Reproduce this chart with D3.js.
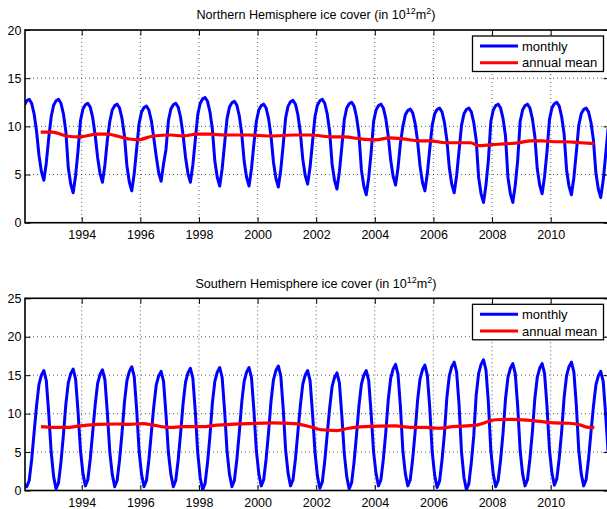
<!DOCTYPE html>
<html><head><meta charset="utf-8">
<script src="https://cdn.jsdelivr.net/npm/d3@7"></script>
<style>
body{margin:0;background:#fff}
svg{display:block}
text{font-family:"Liberation Sans",Arial,Helvetica,sans-serif;fill:#000}
</style>
</head><body>
<svg id="chart" width="607" height="509"></svg>
<script>
// ---------------- DATA ----------------
const years = [1992,1993,1994,1995,1996,1997,1998,1999,2000,2001,2002,2003,2004,2005,2006,2007,2008,2009,2010,2011];
const xTickYears = [1994,1996,1998,2000,2002,2004,2006,2008,2010];
const nhYTicks = [0,5,10,15,20];
const shYTicks = [0,5,10,15,20,25];
const legendLabels = ["monthly","annual mean"];

// Northern Hemisphere monthly ice cover (Jan..Dec per year)
const nhMonthly = [
 [12.2,12.65,12.8,12.4,11.3,9.5,7.0,5.3,4.4,6.2,8.8,11.0],
 [12.2,12.65,12.8,12.4,11.3,9.5,5.7,4.0,3.1,4.9,7.5,10.6],
 [11.8,12.25,12.4,12.0,10.9,9.1,6.8,5.1,4.2,6.0,8.6,10.5],
 [11.7,12.15,12.3,11.9,10.8,9.0,5.9,4.2,3.3,5.1,7.7,10.3],
 [11.5,11.95,12.1,11.7,10.6,8.8,6.9,5.2,4.3,6.1,7.6,10.6],
 [11.8,12.25,12.4,12.0,10.9,9.1,6.8,5.1,4.2,6.0,8.6,11.2],
 [12.4,12.85,13.0,12.6,11.5,9.7,6.4,4.7,3.8,5.6,8.2,10.8],
 [12.0,12.45,12.6,12.2,11.1,9.3,6.4,4.7,3.8,5.6,8.2,10.5],
 [11.7,12.15,12.3,11.9,10.8,9.0,6.3,4.6,3.7,5.5,8.1,10.9],
 [12.1,12.55,12.7,12.3,11.2,9.4,6.6,4.9,4.0,5.8,8.4,11.0],
 [12.2,12.65,12.8,12.4,11.3,9.5,6.1,4.4,3.5,5.3,7.9,10.7],
 [11.9,12.35,12.5,12.1,11.0,9.2,5.5,3.8,2.9,4.7,7.3,10.5],
 [11.7,12.15,12.3,11.9,10.8,9.0,6.5,4.8,3.9,5.7,8.3,10.0],
 [11.2,11.65,11.8,11.4,10.3,8.5,5.9,4.2,3.3,5.1,7.7,10.1],
 [11.3,11.75,11.9,11.5,10.4,8.6,5.7,4.0,3.1,4.9,7.5,10.1],
 [11.3,11.75,11.9,11.5,10.4,8.6,4.7,3.0,2.1,3.9,6.5,10.5],
 [11.7,12.15,12.3,11.9,10.8,9.0,4.7,3.0,2.1,3.9,6.5,10.5],
 [11.7,12.15,12.3,11.9,10.8,9.0,5.6,3.9,3.0,4.8,7.4,10.7],
 [11.9,12.35,12.5,12.1,11.0,9.2,5.5,3.8,2.9,4.7,7.3,10.1],
 [11.3,11.75,11.9,11.5,10.4,8.6,5.2,3.5,2.6,4.4,7.0,9.8]
];
// Southern Hemisphere monthly ice cover (Jan..Dec per year)
const shMonthly = [
 [0.8,0.5,1.3,4.0,7.5,11.0,13.8,15.0,15.6,14.3,10.0,5.0],
 [1.8,0.2,1.0,3.7,7.2,11.2,14.0,15.2,15.8,14.5,10.2,5.2],
 [2.2,0.6,1.4,4.1,7.6,11.1,13.9,15.1,15.7,14.4,10.1,5.0],
 [2.1,0.5,1.3,4.0,7.5,11.5,14.3,15.5,16.1,14.8,10.5,5.1],
 [2.1,0.5,1.3,4.0,7.5,10.9,13.7,14.9,15.5,14.2,9.9,4.9],
 [2.1,0.5,1.3,4.0,7.5,11.3,14.1,15.3,15.9,14.6,10.3,4.9],
 [1.7,0.1,0.9,3.6,7.1,11.4,14.2,15.4,16.0,14.7,10.4,5.1],
 [2.1,0.5,1.3,4.0,7.5,11.4,14.2,15.4,16.0,14.7,10.4,5.2],
 [2.2,0.6,1.4,4.1,7.6,11.6,14.4,15.6,16.2,14.9,10.6,5.2],
 [2.2,0.6,1.4,4.1,7.6,11.0,13.8,15.0,15.6,14.3,10.0,5.0],
 [1.9,0.3,1.1,3.8,7.3,10.7,13.5,14.7,15.3,14.0,9.7,4.8],
 [1.8,0.2,1.0,3.7,7.2,11.0,13.8,15.0,15.6,14.3,10.0,5.0],
 [2.2,0.6,1.4,4.1,7.6,11.8,14.6,15.8,16.4,15.1,10.8,5.1],
 [2.2,0.6,1.4,4.1,7.6,11.7,14.5,15.7,16.3,15.0,10.7,5.0],
 [2.0,0.4,1.2,3.9,7.4,12.1,14.9,16.1,16.7,15.4,11.1,5.0],
 [1.7,0.1,0.9,3.6,7.1,12.4,15.2,16.4,17.0,15.7,11.4,5.2],
 [2.1,0.5,1.3,4.0,7.5,11.9,14.7,15.9,16.5,15.2,10.9,5.2],
 [2.2,0.6,1.4,4.1,7.6,11.9,14.7,15.9,16.5,15.2,10.9,5.3],
 [2.3,0.7,1.5,4.2,7.7,12.1,14.9,16.1,16.7,15.4,11.1,5.2],
 [2.2,0.6,1.4,4.1,7.6,10.9,13.7,14.9,15.5,14.2,9.9,5.0]
];
// Annual (running) means
const nhMeanYears  = [1992.6,1993.0,1993.47,1993.93,1994.53,1994.86,1995.58,1995.91,1996.44,1997.04,1997.43,1997.96,1998.36,1998.88,1999.68,2000.47,2001.26,2001.79,2002.58,2002.98,2003.5,2004.03,2004.5,2004.96,2005.49,2005.88,2006.41,2006.94,2007.27,2007.53,2007.99,2008.52,2008.92,2009.31,2009.71,2010.11,2010.5,2011.03,2011.49];
const nhMeanValues = [9.4,9.4,9.0,8.9,9.2,9.2,8.7,8.6,9.0,9.1,9.0,9.2,9.2,9.1,9.1,9.0,9.1,9.1,8.9,8.9,8.7,8.6,8.8,8.7,8.5,8.5,8.3,8.3,8.3,8.0,8.1,8.2,8.3,8.5,8.5,8.4,8.4,8.3,8.2];
const shMeanYears  = [1992.61,1993.01,1993.47,1993.93,1994.53,1995.19,1995.58,1996.11,1996.44,1997.04,1997.43,1998.09,1998.62,1999.68,2000.47,2001.26,2001.79,2002.18,2002.71,2003.11,2003.64,2004.69,2005.22,2005.75,2006.15,2006.67,2007.46,2008.13,2008.65,2009.18,2009.71,2010.11,2010.63,2011.03,2011.29,2011.49];
const shMeanValues = [8.3,8.2,8.2,8.4,8.6,8.65,8.6,8.7,8.5,8.2,8.3,8.3,8.5,8.7,8.8,8.7,8.3,7.9,7.8,8.1,8.3,8.4,8.2,8.2,8.1,8.3,8.5,9.2,9.25,9.15,8.95,8.8,8.75,8.5,8.2,8.2];

// ---------------- DRAWING ----------------
const svg = d3.select("#chart");
const x = d3.scaleLinear().domain([1992, 2012]).range([23.1, 609.3]);
const xL = 25, xR = 609;

function monthlyPoints(arr){
  const pts = [];
  arr.forEach((row, yi) => row.forEach((v, m) => pts.push([years[yi] + (m + 0.5) / 12, v])));
  return pts;
}

function panel(o){
  const y = d3.scaleLinear().domain([0, o.ymax]).range([o.bottom, o.top]);
  const g = svg.append("g");
  const clipId = "clip" + o.id;
  svg.append("clipPath").attr("id", clipId).append("rect")
     .attr("x", xL).attr("y", o.top).attr("width", xR - xL).attr("height", o.bottom - o.top);

  // grid
  const grid = g.append("g").attr("stroke", "#333").attr("stroke-width", 0.8).attr("stroke-dasharray", "1,3");
  xTickYears.forEach(t => grid.append("line").attr("x1", x(t)).attr("x2", x(t)).attr("y1", o.top).attr("y2", o.bottom));
  o.yTicks.forEach(t => grid.append("line").attr("x1", xL).attr("x2", xR).attr("y1", y(t)).attr("y2", y(t)));

  // data
  const line = d3.line().x(d => x(d[0])).y(d => y(d[1]));
  const dg = g.append("g").attr("clip-path", `url(#${clipId})`);
  dg.append("path").datum(monthlyPoints(o.monthly)).attr("d", line)
    .attr("fill", "none").attr("stroke", "#0000ff").attr("stroke-width", 3).attr("stroke-linejoin", "round");
  dg.append("path").datum(o.meanYears.map((t, i) => [t, o.meanValues[i]])).attr("d", line.curve(d3.curveMonotoneX))
    .attr("fill", "none").attr("stroke", "#ff0000").attr("stroke-width", 3.2).attr("stroke-linejoin", "round");

  // axes
  const fs = "12.5px";
  const ax = g.append("g").attr("transform", `translate(0,${o.bottom})`)
    .call(d3.axisBottom(x).tickValues(xTickYears).tickFormat(d3.format("d")).tickSize(-5.5).tickSizeOuter(0).tickPadding(7.5));
  const ay = g.append("g").attr("transform", `translate(${xL},0)`)
    .call(d3.axisLeft(y).tickValues(o.yTicks).tickSize(-5.5).tickSizeOuter(0).tickPadding(3.5));
  const at = g.append("g").attr("transform", `translate(0,${o.top})`)
    .call(d3.axisTop(x).tickValues(xTickYears).tickFormat("").tickSize(-5.5).tickSizeOuter(0));
  const ar = g.append("g").attr("transform", `translate(${xR},0)`)
    .call(d3.axisRight(y).tickValues(o.yTicks).tickFormat("").tickSize(-5.5).tickSizeOuter(0));
  [ax, ay, at, ar].forEach(a => {
    a.select(".domain").remove();
    a.selectAll("line").attr("stroke", "#000").attr("stroke-width", 1);
    a.selectAll("text").attr("font-size", fs).attr("font-family", "Liberation Sans, Arial, sans-serif").attr("fill", "#000");
  });
  g.append("rect").attr("x", xL).attr("y", o.top).attr("width", xR - xL).attr("height", o.bottom - o.top)
    .attr("fill", "none").attr("stroke", "#000").attr("stroke-width", 1.6);

  // title
  const title = g.append("text").attr("x", (xL + xR) / 2 - 1).attr("y", o.top - 10.6)
    .attr("text-anchor", "middle").attr("font-size", "12.6px");
  title.append("tspan").text(o.title + " ice cover (in 10");
  title.append("tspan").attr("dy", -5).attr("font-size", "9px").text("12");
  title.append("tspan").attr("dy", 5).text("m");
  title.append("tspan").attr("dy", -5).attr("font-size", "9px").text("2");
  title.append("tspan").attr("dy", 5).text(")");

  // legend
  const lx = 472.5, ly = o.top + 6, lw = 131, lh = 35.5;
  const lg = g.append("g");
  lg.append("rect").attr("x", lx).attr("y", ly).attr("width", lw).attr("height", lh)
    .attr("fill", "#fff").attr("stroke", "#000").attr("stroke-width", 1.3);
  const colors = ["#0000ff", "#ff0000"];
  legendLabels.forEach((lab, i) => {
    const yy = ly + 10 + i * 16.7;
    lg.append("line").attr("x1", lx + 7.5).attr("x2", lx + 45.5).attr("y1", yy).attr("y2", yy)
      .attr("stroke", colors[i]).attr("stroke-width", 3);
    lg.append("text").attr("x", lx + 49.5).attr("y", yy).attr("dy", "0.35em").attr("font-size", "13px").text(lab);
  });
}

panel({id: "n", title: "Northern Hemisphere", top: 30, bottom: 222.7, ymax: 20, yTicks: nhYTicks,
       monthly: nhMonthly, meanYears: nhMeanYears, meanValues: nhMeanValues});
panel({id: "s", title: "Southern Hemisphere", top: 298.3, bottom: 490.5, ymax: 25, yTicks: shYTicks,
       monthly: shMonthly, meanYears: shMeanYears, meanValues: shMeanValues});
</script>
</body></html>
